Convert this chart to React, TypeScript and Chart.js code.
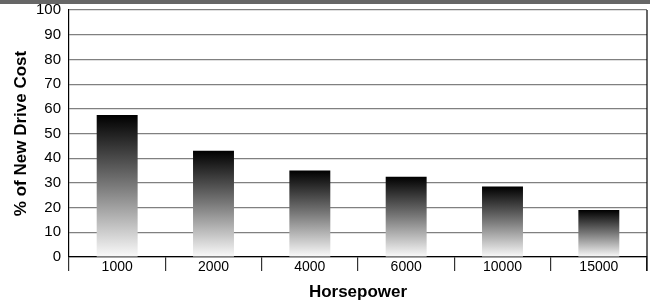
import React, { useEffect, useRef } from "react";
import { Chart, registerables } from "chart.js";

Chart.register(...registerables);

const categories = ["1000", "2000", "4000", "6000", "10000", "15000"];
const values = [57.5, 43, 35, 32.5, 28.5, 19];
const yTitle = "% of New Drive Cost";
const xTitle = "Horsepower";

const FONT = "'Liberation Sans', Arial, sans-serif";

const rightBorder = {
  id: "rightBorder",
  afterDraw(chart: any) {
    const { ctx, chartArea } = chart;
    ctx.save();
    ctx.strokeStyle = "#000";
    ctx.lineWidth = 1.2;
    ctx.beginPath();
    ctx.moveTo(chartArea.right, chartArea.top);
    ctx.lineTo(chartArea.right, chartArea.bottom + 14);
    ctx.stroke();
    ctx.restore();
  },
};

export default function App() {
  const ref = useRef<HTMLCanvasElement>(null);
  useEffect(() => {
    const canvas = ref.current!;
    const chart = new Chart(canvas, {
      type: "bar",
      data: {
        labels: categories,
        datasets: [
          {
            data: values,
            barPercentage: 0.425,
            categoryPercentage: 1,
            backgroundColor: (c: any) => {
              const ch = c.chart;
              const ys = ch.scales?.y;
              if (!ys || c.parsed == null) return "#666";
              const top = ys.getPixelForValue(c.parsed.y);
              const bot = ys.getPixelForValue(0);
              if (!isFinite(top) || !isFinite(bot) || top === bot) return "#666";
              const g = ch.ctx.createLinearGradient(0, top, 0, bot);
              g.addColorStop(0, "#000000");
              g.addColorStop(0.5, "#7a7a7a");
              g.addColorStop(1, "#fafafa");
              return g;
            },
          },
        ],
      },
      options: {
        animation: false,
        responsive: false,
        maintainAspectRatio: false,
        layout: { padding: { top: 10, right: 3, left: 0, bottom: 0 } },
        plugins: { legend: { display: false }, tooltip: { enabled: false } },
        scales: {
          x: {
            grid: {
              offset: true,
              drawOnChartArea: false,
              drawTicks: true,
              tickLength: 14,
              color: "#333",
              lineWidth: 1.2,
            },
            border: { color: "#000", width: 1.2 },
            ticks: {
              color: "#000",
              font: { family: FONT, size: 14 },
              padding: -12,
            },
            title: {
              display: true,
              text: xTitle,
              color: "#000",
              font: { family: FONT, size: 17, weight: "bold" },
              padding: { top: 0, bottom: -2 },
            },
            afterFit: (s: any) => {
              s.height = 44;
              s.paddingLeft = 0;
              s.paddingRight = 0;
            },
          },
          y: {
            min: 0,
            max: 100,
            ticks: {
              stepSize: 10,
              color: "#000",
              font: { family: FONT, size: 15 },
              padding: 8,
            },
            grid: {
              drawTicks: false,
              color: "#808080",
              lineWidth: 1.2,
            },
            border: { color: "#000", width: 1.2 },
            title: {
              display: true,
              text: yTitle,
              color: "#000",
              font: { family: FONT, size: 17, weight: "bold" },
              padding: { top: 11, bottom: 0 },
            },
            afterFit: (s: any) => {
              s.width = 69;
              s.paddingTop = 0;
              s.paddingBottom = 0;
            },
          },
        },
      },
      plugins: [rightBorder],
    });
    return () => chart.destroy();
  }, []);
  return (
    <div style={{ position: "fixed", left: 0, top: 0, width: 650, height: 301, background: "#fff" }}>
      <div style={{ position: "absolute", left: 0, top: 0, width: 650, height: 4, background: "#666" }} />
      <canvas ref={ref} width={650} height={301} style={{ position: "absolute", left: 0, top: 0 }} />
    </div>
  );
}
